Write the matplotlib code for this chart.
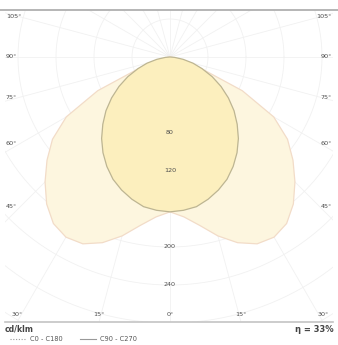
import numpy as np
import matplotlib
matplotlib.use("Agg")
import matplotlib.pyplot as plt
from matplotlib.patches import Polygon, Rectangle

# Luminous intensity distribution (cd/klm), angle measured from nadir
angles_deg = [0, 5, 10, 15, 20, 25, 30, 35, 40, 45, 50, 55, 60, 65, 70, 75, 80, 85, 90]
c0_c180 = [163, 169, 180, 195, 208, 217, 219, 214, 202, 186, 169, 151, 126, 84, 34, 10, 3, 1, 0]
c90_c270 = [163, 162, 160, 155, 149, 142, 133, 123, 112, 100, 88, 75, 62, 49, 36, 25, 14, 5, 0]

ring_step = 40
ring_labels = [80, 120, 200, 240]
side_angle_labels = [105, 90, 75, 60, 45]
bottom_angle_labels = [30, 15, 0, 15, 30]
unit_label = "cd/klm"
efficiency_label = "η = 33%"
legend_labels = ["C0 - C180", "C90 - C270"]

W, H = 338, 345
fig = plt.figure(figsize=(W / 100, H / 100), dpi=100)
ax = fig.add_axes([0, 0, 1, 1])
ax.axis("off")

# pixel -> data mapping (origin of the diagram at the lamp position)
ox, oy, k = 170, 57, 0.95
def px(xp, yp):
    return (xp - ox) / k, -(yp - oy) / k

x0, y0 = px(0, 0)
x1, y1 = px(W, H)
ax.set_xlim(x0, x1)
ax.set_ylim(y1, y0)

bl, bt = px(5, 10)
br, bb = px(333, 322)
clip = Rectangle((bl, bb), br - bl, bt - bb, transform=ax.transData)

grid_c = "#f1f1f1"
# concentric rings
t = np.linspace(0, 2 * np.pi, 400)
for r in range(ring_step, 400, ring_step):
    ln, = ax.plot(r * np.cos(t), r * np.sin(t), color=grid_c, lw=0.6, zorder=1)
    ln.set_clip_path(clip)
# radial lines every 15 degrees
for a in range(0, 360, 15):
    th = np.radians(a)
    ln, = ax.plot([0, 500 * np.sin(th)], [0, -500 * np.cos(th)], color=grid_c, lw=0.6, zorder=1)
    ln.set_clip_path(clip)

# photometric curves, mirrored about the vertical axis
def curve(vals):
    th = np.radians(np.array(angles_deg, dtype=float))
    v = np.array(vals, dtype=float)
    th_full = np.concatenate([-th[::-1], th[1:]])
    v_full = np.concatenate([v[::-1], v[1:]])
    return v_full * np.sin(th_full), -v_full * np.cos(th_full)

xo, yo = curve(c0_c180)
xi, yi = curve(c90_c270)
ax.add_patch(Polygon(np.column_stack([xo, yo]), closed=True, facecolor="#fdf6df",
                     edgecolor="#f2dcc8", lw=0.9, zorder=2))
ax.add_patch(Polygon(np.column_stack([xi, yi]), closed=True, facecolor="#fcefbe",
                     edgecolor="#bdb592", lw=0.9, zorder=3))

# frame lines
ax.plot([x0, x1], [bt, bt], color="#b5b5b5", lw=1.4, zorder=4)
ax.plot([x0 + 5 / k, x1 - 5 / k], [bb, bb], color="#c4c4c4", lw=1.2, zorder=4)

tc = "#4d4d4d"
fs = 4.6
# ring value labels along the nadir axis
for v in ring_labels:
    ax.text(0, -v, str(v), ha="center", va="center", fontsize=fs, color=tc, zorder=5)

# angle labels on the sides
half_w = 150 / k
for a in side_angle_labels:
    th = np.radians(a)
    yv = -half_w / np.tan(th) if a != 90 else 0.0
    ax.text(bl + 1, yv, f"{a}°", ha="left", va="center", fontsize=fs, color=tc, zorder=5)
    ax.text(br - 1, yv, f"{a}°", ha="right", va="center", fontsize=fs, color=tc, zorder=5)
# angle labels along the bottom
ybot = bb + 8 / k
for i, a in enumerate(bottom_angle_labels):
    sgn = -1 if i < 2 else 1
    xv = sgn * abs(bb) * np.tan(np.radians(a))
    xv = max(min(xv, br - 7), bl + 7)
    ax.text(xv, ybot, f"{a}°", ha="center", va="center", fontsize=fs, color=tc, zorder=5)

# footer
fx, fy = px(5, 329)
ax.text(fx, fy, unit_label, ha="left", va="center", fontsize=5.6, color="#444444",
        fontweight="bold")
ex, ey = px(334, 330)
ax.text(ex, ey, efficiency_label, ha="right", va="center", fontsize=6.0, color="#444444",
        fontweight="bold")

lx, ly = px(10, 339)
ax.plot([lx, lx + 16 / k], [ly, ly], color="#999999", lw=0.8, ls=(0, (1, 1.5)))
ax.text(lx + 20 / k, ly, legend_labels[0], ha="left", va="center", fontsize=4.8, color="#555555")
lx2, _ = px(80, 339)
ax.plot([lx2, lx2 + 16 / k], [ly, ly], color="#999999", lw=0.8)
ax.text(lx2 + 20 / k, ly, legend_labels[1], ha="left", va="center", fontsize=4.8, color="#555555")

fig.savefig("out.png", dpi=100, facecolor="white")
